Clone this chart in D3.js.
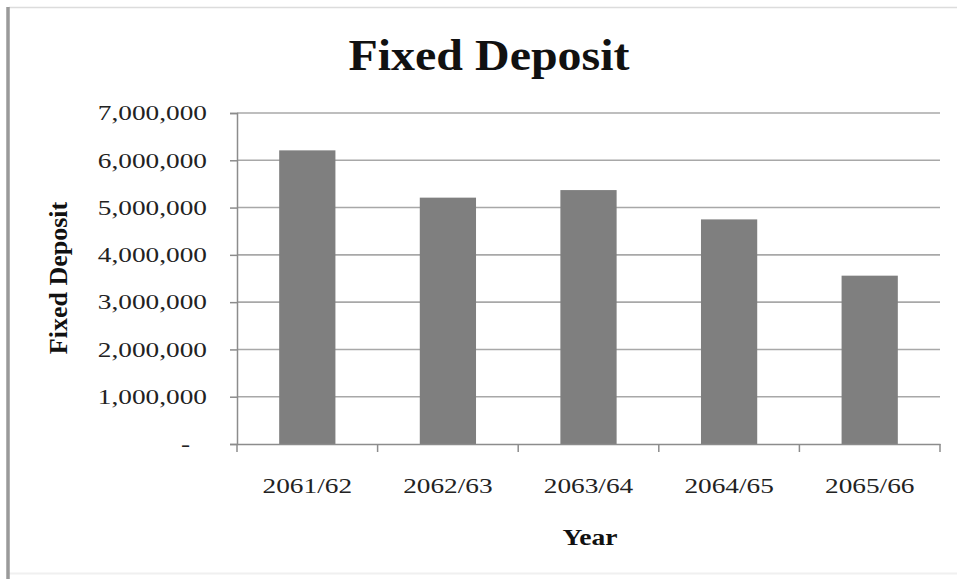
<!DOCTYPE html>
<html>
<head>
<meta charset="utf-8">
<script src="https://cdn.jsdelivr.net/npm/d3@7"></script>
<style>
  html, body { margin: 0; padding: 0; background: #fff; }
  svg { display: block; }
  text { font-family: "Liberation Serif", "Times New Roman", serif; }
</style>
</head>
<body>
<svg id="chart" width="957" height="579"></svg>
<script>
const categories = ["2061/62", "2062/63", "2063/64", "2064/65", "2065/66"];
const values = [6210000, 5210000, 5370000, 4750000, 3560000];
const yTicks = [0, 1000000, 2000000, 3000000, 4000000, 5000000, 6000000, 7000000];
const chartTitle = "Fixed Deposit";
const xTitle = "Year";
const yTitle = "Fixed Deposit";

const W = 957, H = 579;
const margin = { left: 237, right: 17, top: 113, bottom: 135 };
const svg = d3.select("#chart");
const SX = 1.3; // horizontal stretch of tick labels as seen in the reference

// frame
svg.append("rect").attr("x", 0).attr("y", 0).attr("width", W).attr("height", H).attr("fill", "#fff");
svg.append("line").attr("x1", 9).attr("x2", W).attr("y1", 7.5).attr("y2", 7.5).attr("stroke", "#dcdcdc").attr("stroke-width", 1.5);
svg.append("line").attr("x1", 9).attr("x2", W).attr("y1", 573.5).attr("y2", 573.5).attr("stroke", "#f0f0f0").attr("stroke-width", 2);
svg.append("line").attr("x1", 8).attr("x2", 8).attr("y1", 7).attr("y2", H).attr("stroke", "#9a9a9a").attr("stroke-width", 3.5);

const x = d3.scaleBand().domain(categories)
  .range([margin.left, W - margin.right])
  .paddingInner(0.6).paddingOuter(0.3);
const y = d3.scaleLinear().domain([0, 7000000]).range([H - margin.bottom, margin.top]);

// gridlines
svg.append("g").selectAll("line").data(yTicks.filter(d => d > 0)).join("line")
  .attr("x1", margin.left).attr("x2", W - margin.right)
  .attr("y1", d => y(d)).attr("y2", d => y(d))
  .attr("stroke", "#a8a8a8").attr("stroke-width", 1.6);

// bars
svg.append("g").selectAll("rect").data(values).join("rect")
  .attr("x", (d, i) => x(categories[i]))
  .attr("y", d => y(d))
  .attr("width", x.bandwidth())
  .attr("height", d => y(0) - y(d))
  .attr("fill", "#7f7f7f");

// y axis
const fmt = d3.format(",");
const yAxis = svg.append("g").attr("transform", `translate(${margin.left},0)`)
  .call(d3.axisLeft(y).tickValues(yTicks).tickSize(7).tickPadding(23)
    .tickFormat(d => d === 0 ? "-" : fmt(d)));
yAxis.select(".domain").attr("stroke", "#8c8c8c").attr("stroke-width", 1.5);
yAxis.selectAll(".tick line").attr("stroke", "#8c8c8c").attr("stroke-width", 1.5);
yAxis.selectAll(".tick text")
  .attr("fill", "#222").style("font-size", "21px")
  .attr("x", d => (d === 0 ? -47 : -30) / SX)
  .attr("dy", "0.32em")
  .attr("transform", `scale(${SX},1)`);

// x axis
const xEdges = categories.map(c => x(c) - x.step() * x.paddingInner() / 2);
const xAxis = svg.append("g").attr("transform", `translate(0,${y(0)})`)
  .call(d3.axisBottom(x).tickSize(0).tickPadding(34));
xAxis.select(".domain").attr("stroke", "#8c8c8c").attr("stroke-width", 1.5);
xAxis.selectAll(".tick text").attr("fill", "#222").style("font-size", "21px")
  .attr("transform", `scale(${SX},1)`);
xAxis.append("g").selectAll("line")
  .data(xEdges.concat([W - margin.right])).join("line")
  .attr("x1", d => d).attr("x2", d => d)
  .attr("y1", 0).attr("y2", 8)
  .attr("stroke", "#8c8c8c").attr("stroke-width", 1.5);

// titles
const TSX = 1.09;
svg.append("text").attr("x", 489 / TSX).attr("y", 70)
  .attr("transform", `scale(${TSX},1)`)
  .attr("text-anchor", "middle").attr("font-weight", "bold")
  .style("font-size", "44px").attr("fill", "#111").text(chartTitle);

const YSX = 1.15;
svg.append("text").attr("x", 590 / YSX).attr("y", 545)
  .attr("transform", `scale(${YSX},1)`)
  .attr("text-anchor", "middle").attr("font-weight", "bold")
  .style("font-size", "24px").attr("fill", "#111").text(xTitle);

svg.append("text")
  .attr("transform", `translate(67,278) rotate(-90)`)
  .attr("text-anchor", "middle").attr("font-weight", "bold")
  .style("font-size", "26px").attr("fill", "#111").text(yTitle);
</script>
</body>
</html>
